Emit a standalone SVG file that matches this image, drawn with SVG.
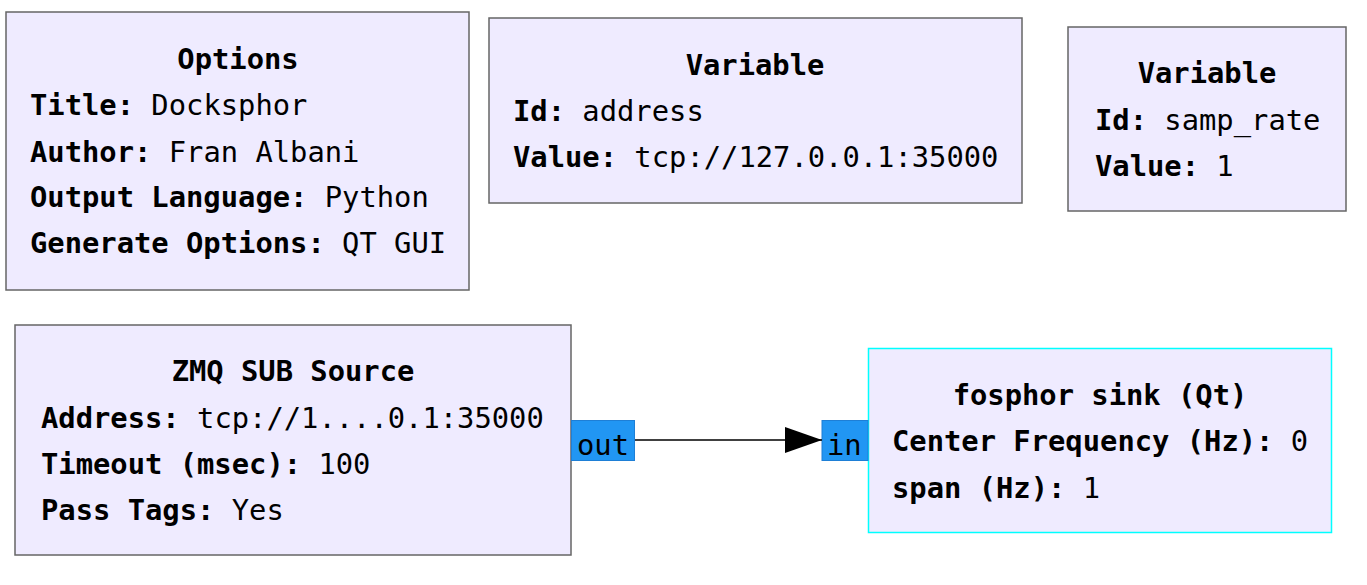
<svg xmlns="http://www.w3.org/2000/svg" width="1367" height="585" viewBox="0 0 1367 585">
<defs>
<style>
.box{fill:#efebff;stroke:#666666;stroke-width:1.5}
.sel{fill:#efebff;stroke:#00ffff;stroke-width:1.5}
.port{fill:#2196f3;stroke:#1e7fd6;stroke-width:1}
text{font-family:"DejaVu Sans Mono","Liberation Mono",monospace;font-size:28.8px;fill:#000}
.t{font-weight:bold;text-anchor:middle}
.b{font-weight:bold}
.edge{stroke:#000;stroke-width:1.5;fill:none}
</style>
<marker id="arr" markerWidth="37" markerHeight="26" refX="37" refY="13" orient="auto" markerUnits="userSpaceOnUse">
<path d="M0,0 L37,13 L0,26 Z" fill="#000"/>
</marker>
</defs>
<rect width="1367" height="585" fill="#ffffff"/>
<g id="options">
<rect class="box" x="6" y="12" width="463" height="278"/>
<text class="t" x="238" y="69">Options</text>
<text x="30" y="115"><tspan class="b">Title:</tspan> Docksphor</text>
<text x="30" y="162"><tspan class="b">Author:</tspan> Fran Albani</text>
<text x="30" y="207"><tspan class="b">Output Language:</tspan> Python</text>
<text x="30" y="253"><tspan class="b">Generate Options:</tspan> QT GUI</text>
</g>
<g id="var_address">
<rect class="box" x="489" y="18" width="533" height="185"/>
<text class="t" x="755" y="75">Variable</text>
<text x="513" y="121"><tspan class="b">Id:</tspan> address</text>
<text x="513" y="167"><tspan class="b">Value:</tspan> tcp://127.0.0.1:35000</text>
</g>
<g id="var_samp_rate">
<rect class="box" x="1068" y="27" width="278" height="184"/>
<text class="t" x="1207" y="83">Variable</text>
<text x="1095" y="130"><tspan class="b">Id:</tspan> samp_rate</text>
<text x="1095" y="176"><tspan class="b">Value:</tspan> 1</text>
</g>
<g id="zmq_sub_source">
<rect class="box" x="15" y="325" width="556" height="230"/>
<text class="t" x="293" y="381">ZMQ SUB Source</text>
<text x="41" y="428"><tspan class="b">Address:</tspan> tcp://1....0.1:35000</text>
<text x="41" y="474"><tspan class="b">Timeout (msec):</tspan> 100</text>
<text x="41" y="520"><tspan class="b">Pass Tags:</tspan> Yes</text>
<rect class="port" x="571.5" y="420.5" width="63" height="40"/>
<text x="577" y="455">out</text>
</g>
<g id="fosphor_sink">
<rect class="sel" x="868.5" y="348.5" width="463" height="184"/>
<text class="t" x="1100" y="405">fosphor sink (Qt)</text>
<text x="892" y="451"><tspan class="b">Center Frequency (Hz):</tspan> 0</text>
<text x="892" y="498"><tspan class="b">span (Hz):</tspan> 1</text>
<rect class="port" x="822" y="420.5" width="46" height="40"/>
<text x="827" y="455">in</text>
</g>
<g id="connectors">
<path class="edge" d="M635,440 L822,440" marker-end="url(#arr)"/>
</g>
</svg>
